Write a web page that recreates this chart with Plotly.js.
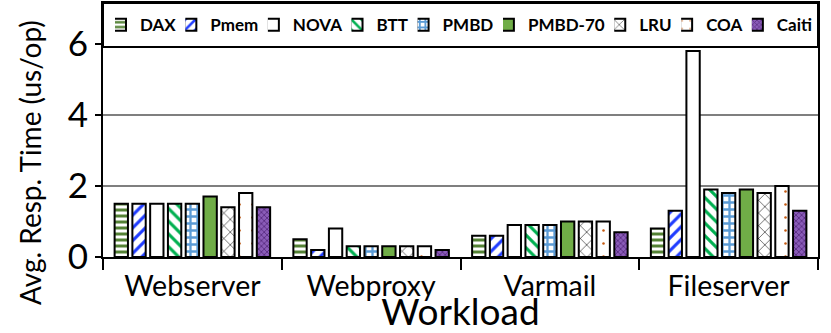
<!DOCTYPE html>
<html>
<head>
<meta charset="utf-8">
<script src="https://cdn.plot.ly/plotly-3.0.1.min.js"></script>
<style>
  html, body { margin: 0; padding: 0; background: #fff; }
  #plot { width: 831px; height: 333px; }
</style>
</head>
<body>
<div id="plot"></div>
<script>
// workloads on the x axis
let workloads = ['Webserver', 'Webproxy', 'Varmail', 'Fileserver']

// avg response time (us/op) per system, one value per workload
let dax     = [1.5, 0.5, 0.6, 0.8]
let pmem    = [1.5, 0.2, 0.6, 1.3]
let nova    = [1.5, 0.8, 0.9, 5.8]
let btt     = [1.5, 0.3, 0.9, 1.9]
let pmbd    = [1.5, 0.3, 0.9, 1.8]
let pmbd70  = [1.7, 0.3, 1.0, 1.9]
let lru     = [1.4, 0.3, 1.0, 1.8]
let coa     = [1.8, 0.3, 1.0, 2.0]
let caiti   = [1.4, 0.2, 0.7, 1.3]

// name, values, fill, pattern shape, pattern colour, pattern size, solidity
let series = [
    ['DAX', dax, 'white', '-', '#548235', 6, 0.5],
    ['Pmem', pmem, 'white', '/', '#1f3cff', 9, 0.35],
    ['NOVA', nova, 'white', '', '', 8, 0.3],
    ['BTT', btt, 'white', '\\', '#00b050', 9, 0.35],
    ['PMBD', pmbd, 'white', '+', '#5b9bd5', 7, 0.55],
    ['PMBD-70', pmbd70, '#70ad47', '', '', 8, 0.3],
    ['LRU', lru, 'white', 'x', '#000000', 9, 0.12],
    ['COA', coa, 'white', '.', '#c55a11', 13, 0.03],
    ['Caiti', caiti, '#8a5cb8', 'x', '#5a2d82', 4, 0.4]
]

let plotLeft = 103
let plotWidth = 715
let legendFont = 17

let data = []
for (var i = 0; i < series.length; i++)
{
    let s = series[i]
    let trace = {
        x: workloads,
        y: s[1],
        name: s[0],
        type: 'bar',
        legend: i === 0 ? 'legend' : 'legend' + (i + 1),
        marker: {
            color: s[2],
            line: {color: '#000000', width: 2}
        }
    }
    if (s[3] !== '') {
        trace.marker.pattern = {
            shape: s[3],
            fgcolor: s[4],
            fgopacity: 1,
            bgcolor: s[2],
            fillmode: 'replace',
            size: s[5],
            solidity: s[6]
        }
    }
    data.push(trace)
}

let layout = {
    width: 831,
    height: 333,
    paper_bgcolor: '#ffffff',
    plot_bgcolor: '#ffffff',
    font: {family: 'Lato, sans-serif', color: '#000000'},
    barmode: 'group',
    bargap: 0.105,
    bargroupgap: 0.25,
    showlegend: true,
    xaxis: {
        title: {text: 'Workload', font: {size: 37}, standoff: 4},
        tickfont: {size: 28.5},
        ticklabelstandoff: 3,
        tickson: 'boundaries',
        ticks: 'outside',
        ticklen: 11,
        tickwidth: 2,
        tickcolor: '#000000',
        showline: true,
        linecolor: '#000000',
        linewidth: 2,
        mirror: true
    },
    yaxis: {
        range: [0, 7.15],
        tickvals: [0, 2, 4, 6],
        tickfont: {size: 35},
        ticks: 'outside',
        ticklen: 6,
        tickwidth: 2,
        tickcolor: '#000000',
        showline: true,
        linecolor: '#000000',
        linewidth: 2,
        mirror: true,
        showgrid: true,
        gridcolor: '#7f7f7f',
        gridwidth: 2,
        zeroline: false
    },
    annotations: [{
        text: 'Avg. Resp. Time (us/op)',
        textangle: -90,
        xref: 'paper',
        yref: 'paper',
        x: (30 - plotLeft) / plotWidth,
        y: 0.37,
        xanchor: 'center',
        yanchor: 'middle',
        showarrow: false,
        font: {size: 28}
    }],
    // white band with a frame behind the legend row
    shapes: [{
        type: 'rect',
        xref: 'x domain',
        yref: 'y domain',
        x0: 0,
        x1: 1,
        y0: 0.827,
        y1: 1,
        fillcolor: '#ffffff',
        line: {color: '#000000', width: 2},
        layer: 'above'
    }],
    margin: {l: plotLeft, r: 831 - plotLeft - plotWidth, t: 3, b: 76, pad: 0}
}

// one legend per entry, spread evenly over the band; negative indentation
// pulls each label in next to its symbol
let ctx = document.createElement('canvas').getContext('2d')
ctx.font = 'bold ' + legendFont + 'px Lato'
let widths = series.map(s => ctx.measureText(s[0]).width)
let rowStart = 117
let rowEnd = 812
let symToText = 23
let used = widths.reduce((a, b) => a + b, 0) + symToText * series.length
let gap = (rowEnd - rowStart - used) / (series.length - 1)

let symX = rowStart
for (var j = 0; j < series.length; j++)
{
    let key = j === 0 ? 'legend' : 'legend' + (j + 1)
    layout[key] = {
        orientation: 'h',
        x: (symX - 2 - plotLeft) / plotWidth,
        xanchor: 'left',
        y: 0.913,
        yanchor: 'middle',
        bgcolor: 'rgba(0,0,0,0)',
        borderwidth: 0,
        indentation: -15,
        font: {family: 'Lato, sans-serif', size: legendFont, weight: 'bold'},
        itemwidth: 30
    }
    symX += symToText + widths[j] + gap
}

Plotly.newPlot('plot', data, layout, {displayModeBar: false})
</script>
</body>
</html>
